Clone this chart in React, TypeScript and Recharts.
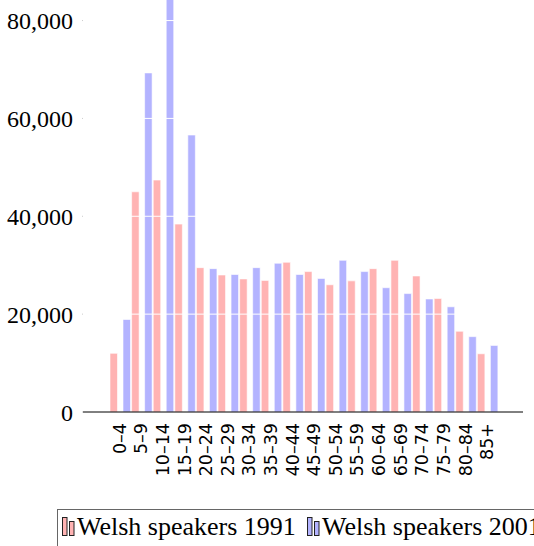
import { BarChart, Bar, XAxis, YAxis, Legend, ReferenceLine } from 'recharts';

const ageGroups = ['0–4', '5–9', '10–14', '15–19', '20–24', '25–29', '30–34', '35–39', '40–44', '45–49', '50–54', '55–59', '60–64', '65–69', '70–74', '75–79', '80–84', '85+'];
const speakers1991 = [12000, 45000, 47400, 38400, 29500, 28000, 27200, 26900, 30600, 28700, 26000, 26800, 29300, 31000, 27800, 23200, 16500, 11900];
const speakers2001 = [18900, 69300, 86000, 56600, 29300, 28100, 29500, 30400, 28100, 27300, 31000, 28700, 25400, 24200, 23100, 21500, 15400, 13600];
const yTicks = [0, 20000, 40000, 60000, 80000];
const yMax = 84200;

const rows = ageGroups.map((age, i) => ({ age, y1991: speakers1991[i], y2001: speakers2001[i] }));

const serif = '"Liberation Serif", "DejaVu Serif", serif';

function AgeTick({ x, y, payload }: any) {
  return (
    <text x={x} y={y} transform={`rotate(-90, ${x}, ${y})`} textAnchor="end" dy="0.34em"
      fontFamily='"DejaVu Sans", sans-serif' fontSize={17.5} fill="#000">
      {payload.value}
    </text>
  );
}

function LegendBox({ payload }: any) {
  return (
    <svg width={534} height={37} style={{ display: 'block' }}>
      <rect x={57.5} y={0.5} width={520} height={60} fill="none" stroke="#666" />
      {(payload || []).map((p: any, i: number) => {
        const x0 = 62 + i * 245;
        return (
          <g key={p.value}>
            <rect x={x0 + 0.5} y={8.5} width={4.5} height={18} fill={p.color} stroke="#222" />
            <rect x={x0 + 7.5} y={12.5} width={4.5} height={14} fill={p.color} stroke="#222" />
            <text x={x0 + 15} y={26} fontFamily={serif} fontSize={26} fill="#000">{p.value}</text>
          </g>
        );
      })}
    </svg>
  );
}

export default function App() {
  return (
    <div style={{ position: 'relative', width: 534, height: 546, overflow: 'hidden', background: '#fff' }}>
      <style>{'html,body{margin:0;padding:0;overflow:hidden}'}</style>
      <BarChart width={534} height={546} data={rows} barSize={7.5} barGap={5.5}
        margin={{ top: 0, right: 11, bottom: 0, left: 0 }}>
        <XAxis dataKey="age" interval={0} height={97} tickLine={false} tickSize={0} tickMargin={11}
          axisLine={{ stroke: '#000', strokeWidth: 1 }} padding={{ left: 26, right: 25 }} tick={<AgeTick />} />
        <YAxis width={83} domain={[0, yMax]} ticks={yTicks} allowDataOverflow axisLine={false}
          tickLine={{ stroke: '#ccc' }} tickSize={1} tickMargin={9}
          tickFormatter={(v: number) => v.toLocaleString('en-US')}
          tick={{ fontFamily: serif, fontSize: 24, fill: '#000' }} />
        <Bar dataKey="y1991" name="Welsh speakers 1991" fill="#ffb3b3" stroke="#fff" strokeWidth={0.6} isAnimationActive={false} />
        <Bar dataKey="y2001" name="Welsh speakers 2001" fill="#b3b3ff" stroke="#fff" strokeWidth={0.6} isAnimationActive={false} />
        {yTicks.filter(t => t > 0).map(t => (
          <ReferenceLine key={t} y={t} stroke="#fff" strokeWidth={1} />
        ))}
        <Legend verticalAlign="bottom" content={<LegendBox />}
          wrapperStyle={{ left: 0, bottom: 0, width: 534, height: 37, margin: 0, padding: 0, lineHeight: 0 }} />
      </BarChart>
    </div>
  );
}
